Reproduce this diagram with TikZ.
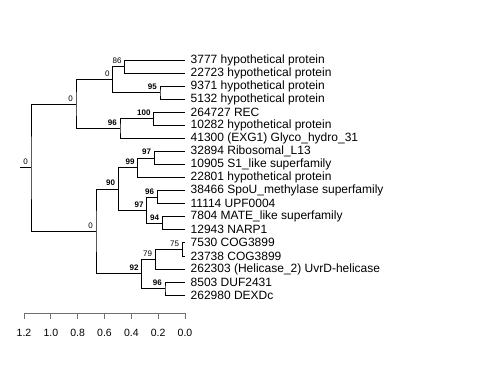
\documentclass[tikz,border=0pt]{standalone}
\usepackage{fontspec}
\setmainfont{Liberation Sans}
\definecolor{axgray}{RGB}{112,112,112}
\begin{document}
\begin{tikzpicture}[x=1pt,y=-1pt,
  branch/.style={draw=black,line width=0.8pt},
  leaf/.style={anchor=west,inner sep=0pt,font=\fontsize{12}{14}\selectfont},
  bs/.style={anchor=base east,inner sep=0pt,xshift=-3pt,yshift=3pt,font=\fontsize{8}{9}\selectfont},
  bsb/.style={bs,font=\fontsize{8}{9}\selectfont\bfseries},
  axisline/.style={draw=axgray,line width=0.8pt},
  axlab/.style={inner sep=0pt,font=\fontsize{10.5}{12}\selectfont}]
\useasboundingbox (0,0) rectangle (480,384);
% leaves
\foreach \i/\t in {0/3777 hypothetical protein,1/22723 hypothetical protein,2/9371 hypothetical protein,3/5132 hypothetical protein,4/264727 REC,5/10282 hypothetical protein,6/41300 (EXG1) Glyco\_hydro\_31,7/32894 Ribosomal\_L13,8/10905 S1\_like superfamily,9/22801 hypothetical protein,10/38466 SpoU\_methylase superfamily,11/11114 UPF0004,12/7804 MATE\_like superfamily,13/12943 NARP1,14/7530 COG3899,15/23738 COG3899,16/262303 (Helicase\_2) UvrD-helicase,17/8503 DUF2431,18/262980 DEXDc}{
  \coordinate (L\i) at (185,{60+13.06*\i});
  \node[leaf] (t\i) at (190.5,{60+13.06*\i}) {\t};
}
% internal nodes
\coordinate (n86) at (124.7,66.53);
\coordinate (n95) at (160,92.65);
\coordinate (nA0) at (112.7,79.59);
\coordinate (n100) at (153.7,118.77);
\coordinate (n96a) at (120,128.57);
\coordinate (nB0) at (76,104.08);
\coordinate (n97a) at (154.3,157.95);
\coordinate (n99) at (137.7,167.75);
\coordinate (n96b) at (157.3,197.13);
\coordinate (n94) at (162.3,223.25);
\coordinate (n97b) at (146.7,210.19);
\coordinate (n90) at (118.3,188.97);
\coordinate (n75) at (182.3,249.37);
\coordinate (n79) at (155.3,259.17);
\coordinate (n96c) at (165,288.55);
\coordinate (n92) at (141.7,273.86);
\coordinate (nC0) at (96,231.42);
\coordinate (root) at (31,167.75);
\coordinate (stub) at (20,167.75);
% branches
\draw[branch] (L0) -| (n86) |- (L1);
\draw[branch] (L2) -| (n95) |- (L3);
\draw[branch] (n86) -| (nA0) |- (n95);
\draw[branch] (L4) -| (n100) |- (L5);
\draw[branch] (n100) -| (n96a) |- (L6);
\draw[branch] (nA0) -| (nB0) |- (n96a);
\draw[branch] (L7) -| (n97a) |- (L8);
\draw[branch] (n97a) -| (n99) |- (L9);
\draw[branch] (L10) -| (n96b) |- (L11);
\draw[branch] (L12) -| (n94) |- (L13);
\draw[branch] (n96b) -| (n97b) |- (n94);
\draw[branch] (n99) -| (n90) |- (n97b);
\draw[branch] (L14) -| (n75) |- (L15);
\draw[branch] (n75) -| (n79) |- (L16);
\draw[branch] (L17) -| (n96c) |- (L18);
\draw[branch] (n79) -| (n92) |- (n96c);
\draw[branch] (n90) -| (nC0) |- (n92);
\draw[branch] (nB0) -| (root) |- (nC0);
\draw[branch] (stub) -- (root);
% bootstrap labels
\node[bs] (b86) at (n86) {86};
\node[bsb] (b95) at (n95) {95};
\node[bs] (bA0) at (nA0) {0};
\node[bsb] (b100) at (n100) {100};
\node[bsb] (b96a) at (n96a) {96};
\node[bs] (bB0) at (nB0) {0};
\node[bsb] (b97a) at (n97a) {97};
\node[bsb] (b99) at (n99) {99};
\node[bsb] (b96b) at (n96b) {96};
\node[bsb] (b94) at (n94) {94};
\node[bsb] (b97b) at (n97b) {97};
\node[bsb] (b90) at (n90) {90};
\node[bs] (b75) at (n75) {75};
\node[bs] (b79) at (n79) {79};
\node[bsb] (b96c) at (n96c) {96};
\node[bsb] (b92) at (n92) {92};
\node[bs] (bC0) at (nC0) {0};
\node[bs] (broot) at (root) {0};
% axis
\coordinate (ax0) at (24,313);
\coordinate (ax1) at (185,313);
\draw[axisline] (ax0) -- (ax1);
\foreach \k/\v in {0/1.2,1/1.0,2/0.8,3/0.6,4/0.4,5/0.2,6/0.0}{
  \coordinate (tk\k) at ({24+26.83*\k},313);
  \draw[axisline] (tk\k) -- ++(0,5.5);
  \node[axlab] (al\k) at ({24+26.83*\k},333) {\v};
}
\end{tikzpicture}
\end{document}
